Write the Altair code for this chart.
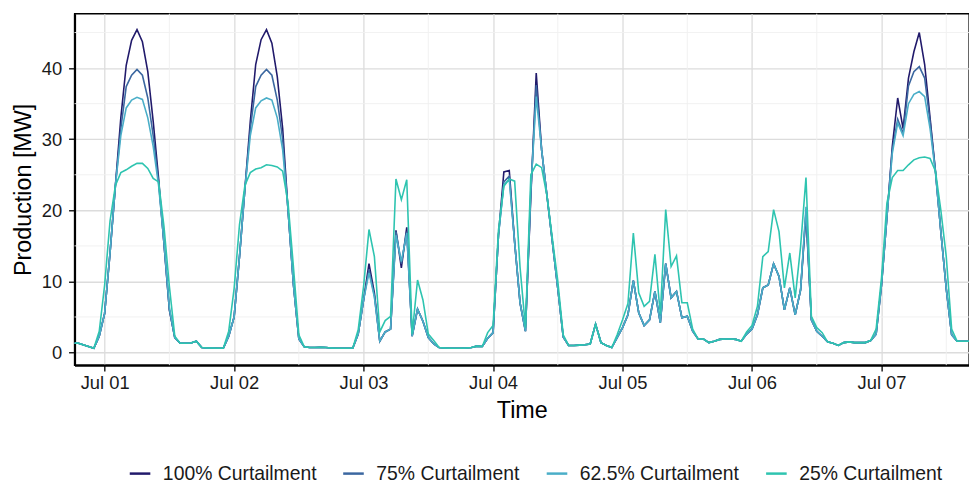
import altair as alt
import pandas as pd

# ---------------- data (hourly, starting 2021-06-30 18:00) ----------------
series_names = ["100% Curtailment", "75% Curtailment", "62.5% Curtailment", "25% Curtailment"]
series_colors = ["#211a6b", "#3b67a0", "#4aaec8", "#2ec4b0"]
start_time = "2021-06-30 18:00"

curt_100 = [
    1.3, 1.35, 1.1, 0.85, 0.6, 2.3,
    5.5, 14, 23.5, 33, 40.4, 43.9, 45.4, 43.7, 39.5, 32.5, 24.5, 15.3, 6.0, 2.1, 1.3, 1.3, 1.35, 1.6, 0.7, 0.65, 0.65, 0.6, 0.6, 2.3,
    5.0, 13.5, 23, 32.5, 40.5, 44, 45.4, 43.5, 38.8, 31.5, 20, 9.5, 1.9, 0.8, 0.7, 0.7, 0.75, 0.7, 0.65, 0.6, 0.6, 0.6, 0.65, 2.6,
    7.4, 12.5, 8.4, 1.6, 2.9, 3.3, 17.2, 11.9, 17.6, 2.3, 6.1, 4.4, 2.1, 1.2, 0.7, 0.65, 0.6, 0.6, 0.6, 0.65, 0.7, 0.9, 0.85, 2.0,
    2.8, 16.5, 25.4, 25.6, 15.5, 7.0, 3.0, 22, 39.3, 28.5, 22, 15.5, 9, 2.2, 1.0, 1.0, 1.05, 1.1, 1.2, 4.0, 1.4, 1.0, 0.7, 2.1,
    3.5, 5.3, 10.1, 5.6, 3.8, 4.6, 8.6, 4.2, 12.5, 7.7, 8.6, 4.9, 5.1, 3.0, 1.9, 1.9, 1.4, 1.6, 1.85, 1.9, 1.9, 1.85, 1.6, 2.6,
    3.3, 5.3, 9.1, 9.5, 12.5, 10.7, 6.0, 9.1, 5.3, 8.8, 19.5, 4.6, 3.0, 2.3, 1.5, 1.3, 1.0, 1.4, 1.5, 1.4, 1.4, 1.4, 1.7, 2.6,
    9.5, 19, 29, 35.8, 31.5, 38.6, 42.3, 45.0, 40.5, 33, 25.5, 17, 9, 2.5, 1.6, 1.6, 1.6, 1.6, 1.6,
]
curt_75 = [
    1.3, 1.35, 1.1, 0.85, 0.6, 2.3,
    5.5, 14, 23.5, 31.5, 37.4, 39, 39.8, 39, 35.8, 30.5, 24, 15.3, 6.0, 2.1, 1.3, 1.3, 1.35, 1.6, 0.7, 0.65, 0.65, 0.6, 0.6, 2.3,
    5.0, 13.5, 23, 31.5, 37.4, 39, 39.8, 39, 35.5, 30, 20, 9.5, 1.9, 0.8, 0.7, 0.7, 0.75, 0.7, 0.65, 0.6, 0.6, 0.6, 0.65, 2.6,
    7.4, 11.7, 8.0, 1.6, 2.9, 3.3, 17.0, 12.5, 17.0, 2.3, 6.1, 4.4, 2.1, 1.2, 0.7, 0.65, 0.6, 0.6, 0.6, 0.65, 0.7, 0.9, 0.85, 2.0,
    2.8, 16.5, 24.0, 24.8, 15.5, 7.0, 3.0, 22.5, 37.6, 28.5, 22, 15.5, 9, 2.2, 1.0, 1.0, 1.05, 1.1, 1.2, 4.0, 1.4, 1.0, 0.7, 2.1,
    3.5, 5.3, 10.1, 5.6, 3.8, 4.6, 8.6, 4.2, 12.5, 7.7, 8.6, 4.9, 5.1, 3.0, 1.9, 1.9, 1.4, 1.6, 1.85, 1.9, 1.9, 1.85, 1.6, 2.6,
    3.3, 5.3, 9.1, 9.5, 12.5, 10.7, 6.0, 9.1, 5.3, 8.8, 19.8, 4.6, 3.0, 2.3, 1.5, 1.3, 1.0, 1.4, 1.5, 1.4, 1.4, 1.4, 1.7, 2.6,
    9.5, 19, 28.5, 32.8, 30.8, 37.5, 39.5, 40.2, 38.6, 32.5, 25.5, 17, 9, 2.5, 1.6, 1.6, 1.6, 1.6, 1.6,
]
curt_625 = [
    1.3, 1.35, 1.1, 0.85, 0.6, 2.3,
    5.5, 14, 23.5, 30.5, 34.4, 35.5, 35.9, 35.6, 33, 29, 23.5, 15.5, 6.3, 2.1, 1.3, 1.3, 1.35, 1.6, 0.7, 0.65, 0.65, 0.6, 0.6, 2.3,
    5.0, 13.5, 23, 30.5, 34.4, 35.4, 35.8, 35.5, 33, 28.5, 20, 9.5, 1.9, 0.8, 0.7, 0.7, 0.75, 0.7, 0.65, 0.6, 0.6, 0.6, 0.65, 2.6,
    7.4, 11.2, 7.8, 1.6, 2.9, 3.3, 16.5, 12.8, 16.8, 2.3, 6.1, 4.4, 2.1, 1.2, 0.7, 0.65, 0.6, 0.6, 0.6, 0.65, 0.7, 0.9, 0.85, 2.0,
    2.8, 16.5, 23.6, 24.3, 15.5, 7.0, 3.0, 23, 36.0, 28.5, 22, 15.5, 9, 2.2, 1.0, 1.0, 1.05, 1.1, 1.2, 4.0, 1.4, 1.0, 0.7, 2.1,
    3.5, 5.3, 10.1, 5.6, 3.8, 4.6, 8.6, 4.2, 12.5, 7.7, 8.6, 4.9, 5.1, 3.0, 1.9, 1.9, 1.4, 1.6, 1.85, 1.9, 1.9, 1.85, 1.6, 2.6,
    3.3, 5.3, 9.1, 9.5, 12.5, 10.7, 6.0, 9.1, 5.3, 8.8, 20.5, 4.6, 3.0, 2.3, 1.5, 1.3, 1.0, 1.4, 1.5, 1.4, 1.4, 1.4, 1.7, 2.6,
    9.5, 19, 28, 32.3, 30.5, 35, 36.3, 36.7, 36.0, 31.5, 25.3, 17, 9, 2.5, 1.6, 1.6, 1.6, 1.6, 1.6,
]
curt_25 = [
    1.3, 1.35, 1.1, 0.85, 0.6, 3.0,
    9.5, 18.5, 23.5, 25.3, 25.7, 26.2, 26.6, 26.6, 25.9, 24.5, 24.0, 17.7, 9.3, 2.3, 1.3, 1.3, 1.35, 1.6, 0.7, 0.65, 0.65, 0.6, 0.6, 3.0,
    9.0, 18, 23.5, 25.3, 25.8, 26.0, 26.4, 26.3, 26.1, 25.5, 21, 12, 2.5, 0.8, 0.7, 0.7, 0.75, 0.7, 0.65, 0.6, 0.6, 0.6, 0.65, 3.2,
    9.3, 17.3, 13.5, 2.9, 4.5, 5.1, 24.4, 21.5, 24.3, 2.6, 10.2, 7.4, 2.6, 1.7, 0.7, 0.65, 0.6, 0.6, 0.6, 0.65, 0.7, 0.9, 0.85, 2.8,
    3.8, 17.2, 23.4, 24.4, 24.1, 12, 3.5, 25, 26.5, 26.0, 22, 16, 10, 2.5, 1.0, 1.0, 1.05, 1.1, 1.2, 4.0, 1.4, 1.0, 0.7, 2.5,
    4.6, 6.9, 16.8, 8.4, 6.5, 7.2, 13.8, 5.4, 20.1, 12.1, 13.6, 7.0, 7.0, 3.3, 1.9, 1.9, 1.4, 1.6, 1.85, 1.9, 1.9, 1.85, 1.6, 2.9,
    3.8, 6.5, 13.5, 14.2, 20.1, 17.0, 9.1, 14.0, 7.7, 14.9, 24.6, 5.1, 3.5, 2.8, 1.5, 1.3, 1.0, 1.4, 1.5, 1.4, 1.4, 1.4, 1.7, 3.3,
    10.5, 21, 24.6, 25.6, 25.6, 26.4, 27.1, 27.4, 27.5, 27.3, 25.5, 20, 13.5, 3.3, 1.6, 1.6, 1.6, 1.6, 1.6,
]

day_numbers = [1, 2, 3, 4, 5, 6, 7]
y_ticks = [0, 10, 20, 30, 40]
y_minor = [5, 15, 25, 35, 45]

# ---------------- build table ----------------
times = pd.date_range(start_time, periods=len(curt_100), freq="h").strftime("%Y-%m-%dT%H:%M:%S")
frames = []
for name, vals in zip(series_names, [curt_100, curt_75, curt_625, curt_25]):
    frames.append(pd.DataFrame({"time": list(times), "value": vals, "series": name}))
df = pd.concat(frames, ignore_index=True)

minor_x_df = pd.DataFrame({"time": [f"2021-07-{d:02d}T12:00:00" for d in day_numbers]})
minor_y_df = pd.DataFrame({"value": y_minor})

x_scale = alt.Scale(domain=[
    alt.DateTime(year=2021, month=6, date=30, hours=18, minutes=25),
    alt.DateTime(year=2021, month=7, date=7, hours=16, minutes=13),
])
y_scale = alt.Scale(domain=[-1.77, 47.65], nice=False, zero=False)

TEXT = "#1a1a1a"

x_axis = alt.Axis(
    values=[alt.DateTime(year=2021, month=7, date=d) for d in day_numbers],
    format="%b %d",
    title="Time",
    labelFontSize=18.5,
    titleFontSize=23.5,
    titleFontWeight="normal",
    labelColor=TEXT,
    titleColor="#000000",
    tickSize=6,
    tickWidth=1.5,
    tickColor="#222222",
    grid=True,
    gridColor="#dcdcdc",
    gridWidth=1.3,
    domain=True,
    domainColor="#000000",
    domainWidth=2.2,
    labelPadding=3,
    titlePadding=6,
    labelFlush=False,
)
y_axis = alt.Axis(
    values=y_ticks,
    title="Production [MW]",
    labelFontSize=18.5,
    titleFontSize=23.5,
    titleFontWeight="normal",
    labelColor=TEXT,
    titleColor="#000000",
    tickSize=6,
    tickWidth=1.5,
    tickColor="#222222",
    grid=True,
    gridColor="#dcdcdc",
    gridWidth=1.3,
    domain=True,
    domainColor="#000000",
    domainWidth=2.2,
    labelPadding=7,
    titlePadding=6,
)

minor_x = alt.Chart(minor_x_df).mark_rule(color="#efefef", strokeWidth=0.9).encode(
    x=alt.X("time:T", scale=x_scale, axis=x_axis)
)
minor_y = alt.Chart(minor_y_df).mark_rule(color="#efefef", strokeWidth=0.9).encode(
    y=alt.Y("value:Q", scale=y_scale, axis=y_axis)
)

lines = alt.Chart(df).mark_line(strokeWidth=1.6, clip=True).encode(
    x=alt.X("time:T", scale=x_scale, axis=x_axis),
    y=alt.Y("value:Q", scale=y_scale, axis=y_axis),
    color=alt.Color(
        "series:N",
        sort=series_names,
        scale=alt.Scale(domain=series_names, range=series_colors),
        legend=alt.Legend(
            title=None,
            orient="none",
            legendX=54,
            legendY=451,
            direction="horizontal",
            columns=4,
            symbolType="stroke",
            symbolStrokeWidth=2.5,
            symbolSize=430,
            labelFontSize=19.5,
            labelColor=TEXT,
            labelOffset=11,
            columnPadding=21,
            labelLimit=0,
        ),
    ),
)

chart = alt.layer(minor_x, minor_y, lines).properties(
    width=901,
    height=354,
    autosize=alt.AutoSizeParams(type="none"),
    padding={"left": 67, "top": 4, "right": 0, "bottom": 120},
).configure(
    font="Liberation Sans",
).configure_view(
    stroke="#000000",
    strokeWidth=1.4,
)

chart.save("out.html", embed_options={"renderer": "svg", "actions": False})
